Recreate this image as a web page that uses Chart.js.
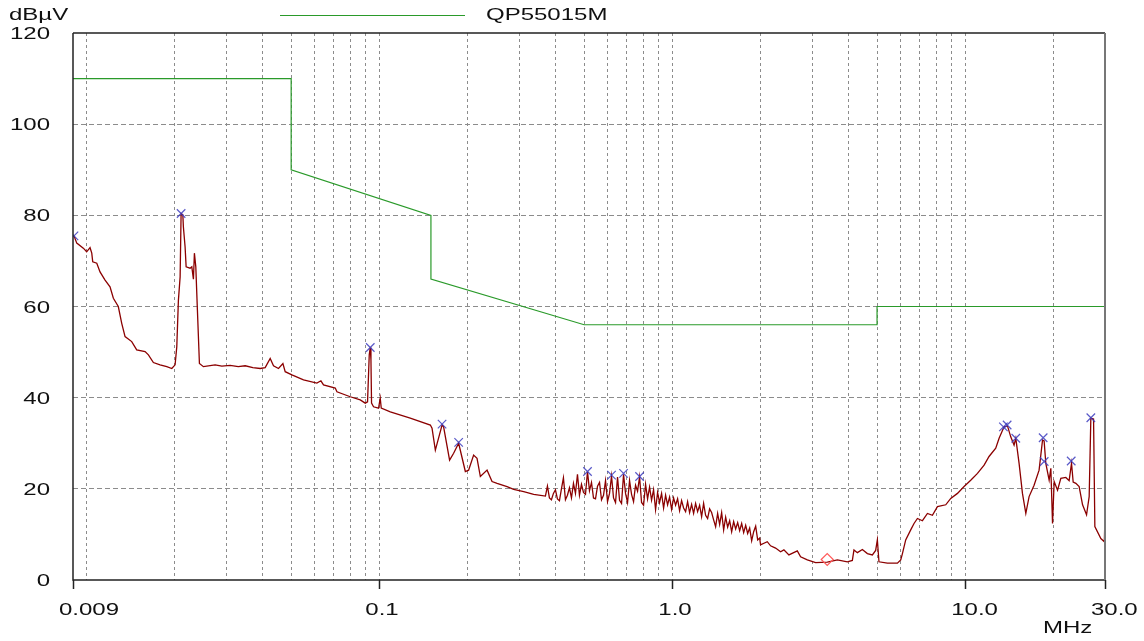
<!DOCTYPE html>
<html>
<head>
<meta charset="utf-8">
<script src="https://cdn.jsdelivr.net/npm/chart.js@4.4.1/dist/chart.umd.min.js"></script>
<style>
  html, body { margin: 0; padding: 0; background: #fff; }
  #wrap { width: 1144px; height: 641px; }
</style>
</head>
<body>
<div id="wrap"><canvas id="emi" width="1144" height="641"></canvas></div>
<script>
// measured level (MHz / dBuV)
const traceFreq = [
  0.00907, 0.00927, 0.00976, 0.01002, 0.01029, 0.01043, 0.01051, 0.01085, 0.01113, 0.01158,
  0.01204, 0.01236, 0.01285, 0.01320, 0.01355, 0.01428, 0.01485, 0.01586, 0.01628, 0.01693,
  0.01784, 0.01881, 0.01957, 0.02008, 0.02035, 0.02061, 0.02089, 0.02105, 0.02134, 0.02143,
  0.02172, 0.02190, 0.02259, 0.02290, 0.02319, 0.02337, 0.02363, 0.02393, 0.02431, 0.02509,
  0.02750, 0.02900, 0.03095, 0.03300, 0.03484, 0.03700, 0.03920, 0.04076, 0.04240, 0.04352,
  0.04526, 0.04686, 0.04771, 0.05029, 0.05509, 0.06121, 0.06317, 0.06448, 0.07070, 0.07166,
  0.07955, 0.08605, 0.08950, 0.09114, 0.09237, 0.09310, 0.09361, 0.09405, 0.09555, 0.09939,
  0.1007, 0.1015, 0.1090, 0.1275, 0.1493, 0.1513, 0.1553, 0.1637, 0.1657, 0.1737,
  0.1793, 0.1865, 0.1966, 0.2017, 0.2098, 0.2155, 0.2212, 0.2332, 0.2425, 0.2523,
  0.2728, 0.2874, 0.3110, 0.3364,
  // 0.37 - 2 MHz: dense harmonic comb
  0.3689, 0.3748, 0.3807, 0.3867, 0.3929, 0.3991, 0.4054, 0.4119, 0.4184, 0.4250,
  0.4318, 0.4386, 0.4456, 0.4527, 0.4599, 0.4672, 0.4746, 0.4821, 0.4898, 0.4976,
  0.5055, 0.5135, 0.5216, 0.5299, 0.5383, 0.5469, 0.5556, 0.5644, 0.5733, 0.5824,
  0.5917, 0.6011, 0.6106, 0.6203, 0.6301, 0.6401, 0.6503, 0.6606, 0.6711, 0.6817,
  0.6925, 0.7035, 0.7147, 0.7260, 0.7375, 0.7492, 0.7611, 0.7732, 0.7854, 0.7979,
  0.8106, 0.8234, 0.8365, 0.8497, 0.8632, 0.8769, 0.8908, 0.9049, 0.9193, 0.9339,
  0.9487, 0.9637, 0.9790, 0.9945, 1.0103, 1.0263, 1.0426, 1.0591, 1.0759, 1.0930,
  1.1103, 1.1279, 1.1458, 1.1640, 1.1824, 1.2012, 1.2202, 1.2396, 1.2592, 1.2792,
  1.2995, 1.3201, 1.3410, 1.3623, 1.3839, 1.4059, 1.4282, 1.4509, 1.4739, 1.4973,
  1.5211, 1.5452, 1.5697, 1.5946, 1.6199, 1.6456, 1.6717, 1.6982, 1.7251, 1.7525,
  1.7803, 1.8085, 1.8372, 1.8663, 1.8959, 1.9260, 1.9565, 1.9875,
  // 2 - 30 MHz
  2.0014, 2.1098,
  2.1654, 2.2523, 2.3427, 2.4043, 2.5008, 2.6717, 2.7419, 2.8903, 3.0849, 3.3826,
  3.6606, 3.9592, 4.1180, 4.1705, 4.2835, 4.4553, 4.6340, 4.8200, 4.9459, 5.0124,
  5.076, 5.423, 5.868, 6.023, 6.104, 6.263, 6.515, 6.687, 6.868, 7.143,
  7.430, 7.727, 8.038, 8.580, 8.924, 9.407, 9.909, 10.44, 11.01, 11.60,
  12.06, 12.71, 13.05, 13.57, 13.94, 14.30, 14.68, 14.88, 15.27, 15.68,
  16.10, 16.52, 17.18, 17.87, 18.36, 18.59, 18.84, 19.34, 19.60, 19.86,
  20.12, 20.66, 21.20, 22.05, 22.63, 23.06, 23.36, 23.86, 24.48, 25.15,
  25.95, 26.49, 26.84, 27.42, 27.70, 29.04, 29.85, 30.0
];
const traceLevel = [
  75.5, 73.9, 72.8, 72.0, 72.9, 71.7, 69.8, 69.5, 67.6, 65.8,
  64.3, 61.8, 60.0, 56.3, 53.4, 52.3, 50.5, 50.1, 49.4, 47.7,
  47.2, 46.8, 46.4, 47.2, 51.2, 61.4, 66.5, 80.4, 80.1, 77.5,
  73.1, 68.7, 68.4, 68.7, 66.0, 71.7, 68.7, 59.2, 47.5, 46.8,
  47.2, 46.9, 47.1, 46.8, 47.0, 46.6, 46.4, 46.6, 48.6, 47.0,
  46.4, 47.5, 45.7, 45.0, 43.9, 43.2, 43.7, 42.8, 42.1, 41.3,
  40.2, 39.5, 38.8, 39.1, 49.4, 51.0, 48.3, 38.8, 38.0, 37.7,
  39.9, 37.7, 36.9, 35.5, 34.0, 33.3, 28.5, 34.0, 33.6, 26.3,
  27.8, 30.0, 23.8, 24.1, 27.4, 26.7, 22.7, 24.1, 21.6, 21.2,
  20.5, 19.9, 19.4, 18.8,
  18.4, 20.6, 18.0, 17.6, 19.0, 19.8, 17.8, 17.4, 20.0, 22.4,
  17.6, 18.6, 20.2, 18.0, 21.2, 19.0, 23.2, 18.6, 21.0, 19.2,
  18.8, 23.8, 19.6, 21.4, 18.0, 17.8, 20.6, 21.4, 17.6, 18.6,
  21.8, 17.2, 19.0, 22.8, 18.0, 17.0, 22.6, 17.5, 16.8, 23.2,
  19.0, 17.0, 21.8, 18.8, 17.2, 20.8, 19.5, 22.6, 17.0, 16.4,
  21.0, 17.8, 20.4, 17.5, 19.8, 15.4, 19.2, 17.0, 19.0, 15.8,
  18.6, 16.5, 18.2, 15.5, 18.0, 16.4, 17.8, 15.2, 17.4, 15.8,
  15.0, 17.2, 14.8, 16.6, 14.6, 16.8, 15.0, 16.4, 13.9, 16.8,
  14.2, 13.5, 15.6, 14.8, 13.2, 11.7, 14.6, 12.2, 14.8, 11.0,
  13.8, 11.6, 13.0, 10.6, 12.8, 11.2, 12.6, 10.8, 12.4, 10.4,
  12.0, 10.2, 11.4, 8.6, 10.6, 11.8, 8.8, 9.2,
  7.7, 8.4,
  7.5, 7.0, 6.2, 6.6, 5.5, 6.4, 5.1, 4.4, 3.8, 3.9,
  4.4, 4.0, 4.3, 6.6, 6.0, 6.7, 5.8, 5.5, 6.5, 8.8,
  4.0, 3.7, 3.7, 4.4, 5.8, 8.8, 11.0, 12.4, 13.5, 13.0,
  14.6, 14.2, 16.1, 16.5, 17.9, 19.0, 20.5, 21.9, 23.4, 25.2,
  27.1, 28.9, 31.1, 33.6, 33.8, 31.4, 29.6, 31.1, 25.6, 19.0,
  14.6, 18.3, 20.8, 24.1, 30.7, 30.5, 25.6, 21.9, 24.5, 12.4,
  21.6, 19.7, 22.3, 22.5, 21.8, 25.6, 21.5, 21.2, 20.5, 16.5,
  14.3, 18.3, 35.5, 35.3, 11.7, 9.1, 8.4, 14.7
];

// QP55015M limit line
const limitFreq  = [0.009, 0.05, 0.05, 0.15, 0.15, 0.5, 5, 5, 30];
const limitLevel = [110, 110, 90, 80, 66, 56, 56, 60, 60];

// peak markers (x) and the average marker (diamond)
const peakFreq  = [0.00907, 0.02105, 0.0931, 0.1637, 0.1865, 0.5135, 0.6203, 0.6817, 0.7732,
                   13.5, 13.9, 14.88, 18.45, 18.6, 23.0, 26.84];
const peakLevel = [75.5, 80.4, 51.0, 34.2, 30.2, 23.8, 23.0, 23.4, 22.7,
                   33.6, 34.0, 31.1, 31.2, 26.0, 26.1, 35.6];
const avgFreq  = [3.38];
const avgLevel = [4.5];

// axis labels
const xLabelValues = [0.009, 0.1, 1, 10, 30];
const xLabelText   = ['0.009', '0.1', '1.0', '10.0', '30.0'];
const yTicks = [0, 20, 40, 60, 80, 100, 120];

const FONT = '16px "Liberation Sans", Arial, sans-serif';
const STRETCH = 1.5;

const xy = (xs, ys) => xs.map((x, i) => ({ x, y: ys[i] }));

// 1-2-...-9 decade grid between 0.01 and 20, plus the range ends
const xGridValues = [0.009];
for (let dec = 0.01; dec < 20; dec *= 10) {
  for (let m = 1; m <= 9; m++) {
    const v = +(m * dec).toPrecision(3);
    if (v <= 20) xGridValues.push(v);
  }
}
xGridValues.push(30);

const isLabelled = v => xLabelValues.some(l => Math.abs(l - v) < 1e-9);

function wideText(ctx, text, x, y, align) {
  ctx.save();
  ctx.font = FONT;
  const w = ctx.measureText(text).width * STRETCH;
  const left = align === 'right' ? x - w : x;
  ctx.translate(left, y);
  ctx.scale(STRETCH, 1);
  ctx.textAlign = 'left';
  ctx.textBaseline = 'alphabetic';
  ctx.fillStyle = '#111';
  ctx.fillText(text, 0, 0);
  ctx.restore();
}

const frameAndText = {
  id: 'frameAndText',
  afterDraw(chart) {
    const { ctx, chartArea: a, scales } = chart;
    ctx.save();
    // plot frame
    ctx.lineWidth = 1.5;
    ctx.strokeStyle = '#222';
    ctx.beginPath();
    ctx.moveTo(a.left, a.top);
    ctx.lineTo(a.right, a.top);
    ctx.moveTo(a.left, a.top);
    ctx.lineTo(a.left, a.bottom);
    ctx.lineTo(a.right, a.bottom);
    ctx.stroke();
    ctx.strokeStyle = '#777';
    ctx.lineWidth = 2;
    ctx.beginPath();
    ctx.moveTo(a.right, a.top);
    ctx.lineTo(a.right, a.bottom);
    ctx.stroke();

    // legend
    ctx.strokeStyle = '#2a9a2a';
    ctx.lineWidth = 1;
    ctx.beginPath();
    ctx.moveTo(280, 15.5);
    ctx.lineTo(465, 15.5);
    ctx.stroke();
    ctx.restore();
    wideText(ctx, 'QP55015M', 486, 20, 'left');

    // y labels
    wideText(ctx, 'dBµV', 9, 20, 'left');
    yTicks.forEach(v => {
      wideText(ctx, String(v), 50, scales.y.getPixelForValue(v) + 6, 'right');
    });

    // x labels
    xLabelValues.forEach((v, i) => {
      wideText(ctx, xLabelText[i], scales.x.getPixelForValue(v) - 14, 615, 'left');
    });
    wideText(ctx, 'MHz', 1043, 633, 'left');
  }
};

new Chart(document.getElementById('emi'), {
  type: 'line',
  data: {
    datasets: [
      {
        label: 'peaks',
        data: xy(peakFreq, peakLevel),
        showLine: false,
        pointStyle: 'crossRot',
        pointRadius: 6,
        pointBorderWidth: 1.2,
        borderColor: 'rgba(60, 60, 190, 0.85)',
        pointBorderColor: 'rgba(60, 60, 190, 0.85)',
        order: 0,
      },
      {
        label: 'average',
        data: xy(avgFreq, avgLevel),
        showLine: false,
        pointStyle: 'rectRot',
        pointRadius: 6,
        pointBorderWidth: 1.2,
        pointBorderColor: '#ff5a5a',
        pointBackgroundColor: 'rgba(255,255,255,0)',
        order: 0,
      },
      {
        label: 'QP55015M',
        data: xy(limitFreq, limitLevel),
        borderColor: '#2a9a2a',
        borderWidth: 1.2,
        pointRadius: 0,
        tension: 0,
        order: 1,
      },
      {
        label: 'level',
        data: xy(traceFreq, traceLevel),
        borderColor: '#8b0000',
        borderWidth: 1.3,
        pointRadius: 0,
        tension: 0,
        order: 2,
      },
    ],
  },
  options: {
    responsive: false,
    animation: false,
    layout: { padding: { top: 33, right: 39, left: 0, bottom: 0 } },
    plugins: {
      legend: { display: false },
      tooltip: { enabled: false },
    },
    scales: {
      x: {
        type: 'logarithmic',
        min: 0.009,
        max: 30,
        afterBuildTicks(scale) {
          scale.ticks = xGridValues.map(value => ({ value }));
        },
        afterFit(scale) {
          scale.height = 61;
        },
        ticks: { display: false },
        grid: {
          color: ctx => {
            const v = ctx.tick && ctx.tick.value;
            return v === 0.009 || v === 30 ? 'rgba(0,0,0,0)' : '#8c8c8c';
          },
          lineWidth: 1,
          drawTicks: true,
          tickLength: 9,
          tickWidth: 1.5,
          tickColor: ctx => (ctx.tick && isLabelled(ctx.tick.value) ? '#222' : 'rgba(0,0,0,0)'),
        },
        border: { display: false, dash: [3, 3] },
      },
      y: {
        min: 0,
        max: 120,
        afterBuildTicks(scale) {
          scale.ticks = yTicks.map(value => ({ value }));
        },
        afterFit(scale) {
          scale.width = 73;
        },
        ticks: { display: false },
        grid: {
          color: ctx => {
            const v = ctx.tick && ctx.tick.value;
            return v === 0 || v === 120 ? 'rgba(0,0,0,0)' : '#8c8c8c';
          },
          lineWidth: 1,
          drawTicks: false,
        },
        border: { display: false, dash: [5, 3] },
      },
    },
  },
  plugins: [frameAndText],
});
</script>
</body>
</html>
